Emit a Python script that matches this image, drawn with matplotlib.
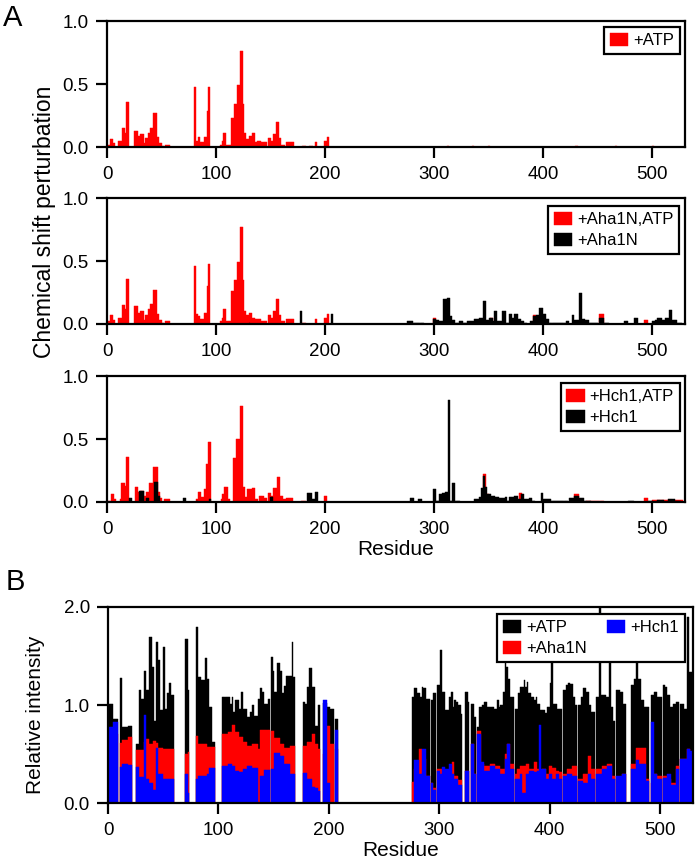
import matplotlib
matplotlib.use("Agg")
import matplotlib.pyplot as plt
import numpy as np

plt.rcParams['font.family'] = ['Liberation Sans', 'DejaVu Sans']

# ---- data: (first residue, last residue, value) runs ----
# Panel A, chemical shift perturbation
atp_csp = [
    (1, 2, 0.02), (3, 5, 0.06), (6, 7, 0.03), (11, 13, 0.05), (14, 16, 0.15), (17, 17, 0.11),
    (18, 20, 0.36), (25, 28, 0.13), (29, 30, 0.09), (31, 33, 0.10), (34, 34, 0.03), (35, 37, 0.07),
    (38, 39, 0.11), (40, 42, 0.15), (43, 45, 0.27), (46, 47, 0.08), (48, 50, 0.03), (51, 52, 0.01),
    (54, 57, 0.02), (80, 81, 0.48), (82, 83, 0.05), (84, 85, 0.08), (86, 88, 0.04), (89, 91, 0.08),
    (92, 92, 0.29), (93, 94, 0.48), (104, 105, 0.02), (106, 106, 0.05), (107, 109, 0.11),
    (110, 113, 0.02), (114, 116, 0.23), (117, 119, 0.34), (120, 121, 0.49), (122, 124, 0.76),
    (125, 125, 0.34), (126, 127, 0.11), (128, 130, 0.06), (131, 132, 0.09), (133, 135, 0.11),
    (136, 137, 0.04), (138, 141, 0.05), (142, 146, 0.04), (148, 150, 0.07), (151, 152, 0.05),
    (153, 154, 0.10), (155, 157, 0.20), (158, 159, 0.07), (160, 163, 0.02), (165, 171, 0.04),
    (179, 182, 0.01), (186, 188, 0.005), (191, 192, 0.04), (199, 201, 0.05), (202, 203, 0.08),
    (312, 313, 0.01), (335, 336, 0.01), (350, 351, 0.01), (430, 431, 0.01), (466, 467, 0.01),
    (500, 501, 0.01),
]
aha1n_atp_csp = [
    (1, 2, 0.02), (3, 5, 0.07), (6, 7, 0.03), (11, 13, 0.05), (14, 16, 0.15), (17, 17, 0.12),
    (18, 20, 0.36), (25, 28, 0.14), (29, 30, 0.09), (31, 33, 0.10), (34, 34, 0.03), (35, 37, 0.07),
    (38, 39, 0.12), (40, 42, 0.16), (43, 45, 0.27), (46, 47, 0.08), (48, 50, 0.03), (51, 52, 0.01),
    (54, 57, 0.02), (80, 81, 0.46), (82, 83, 0.08), (84, 85, 0.06), (86, 88, 0.04), (89, 91, 0.09),
    (92, 92, 0.30), (93, 94, 0.48), (104, 105, 0.02), (106, 106, 0.05), (107, 109, 0.12),
    (110, 113, 0.02), (114, 116, 0.26), (117, 119, 0.35), (120, 121, 0.49), (122, 124, 0.77),
    (125, 125, 0.35), (126, 127, 0.10), (128, 130, 0.07), (131, 132, 0.09), (133, 135, 0.05),
    (136, 137, 0.04), (138, 141, 0.04), (142, 146, 0.02), (148, 150, 0.07), (151, 152, 0.05),
    (153, 154, 0.10), (155, 157, 0.20), (158, 159, 0.07), (160, 163, 0.02), (165, 171, 0.04),
    (179, 182, 0.01), (191, 192, 0.04), (199, 201, 0.05), (202, 203, 0.08),
    (299, 301, 0.05), (352, 353, 0.05), (391, 393, 0.07), (452, 455, 0.08), (493, 496, 0.03),
    (518, 518, 0.02),
]
aha1n_csp = [
    (131, 131, 0.01), (177, 178, 0.10), (206, 207, 0.08),
    (276, 280, 0.02), (281, 290, 0.005), (299, 301, 0.04), (302, 304, 0.03), (305, 308, 0.02),
    (309, 311, 0.20), (312, 314, 0.21), (315, 316, 0.06), (317, 319, 0.03), (320, 322, 0.01),
    (323, 326, 0.02), (327, 330, 0.01), (331, 336, 0.02), (337, 341, 0.04), (342, 344, 0.05),
    (345, 347, 0.18), (348, 350, 0.03), (351, 353, 0.05), (354, 354, 0.02), (355, 357, 0.10),
    (358, 362, 0.02), (363, 365, 0.10), (366, 368, 0.01), (369, 371, 0.08), (372, 373, 0.05),
    (374, 376, 0.08), (377, 379, 0.04), (380, 382, 0.02), (383, 385, 0.01), (388, 390, 0.02),
    (391, 393, 0.06), (394, 396, 0.07), (397, 399, 0.13), (400, 402, 0.08), (403, 405, 0.04),
    (406, 408, 0.01), (409, 415, 0.005), (416, 420, 0.01), (421, 423, 0.02), (427, 428, 0.07),
    (429, 432, 0.03), (433, 435, 0.25), (436, 438, 0.04), (439, 441, 0.03), (442, 450, 0.01),
    (452, 455, 0.05), (456, 460, 0.01), (475, 477, 0.02), (484, 486, 0.05), (500, 502, 0.02),
    (503, 504, 0.03), (505, 508, 0.05), (509, 511, 0.03), (512, 515, 0.05), (516, 518, 0.11),
    (519, 522, 0.03), (523, 527, 0.01),
]
hch1_atp_csp = [
    (1, 3, 0.01), (4, 6, 0.06), (7, 8, 0.02), (12, 12, 0.02), (13, 16, 0.15), (17, 17, 0.13),
    (18, 20, 0.36), (26, 28, 0.12), (29, 30, 0.08), (31, 33, 0.09), (34, 35, 0.05), (36, 38, 0.08),
    (39, 42, 0.15), (43, 46, 0.28), (47, 48, 0.08), (49, 50, 0.03), (53, 57, 0.02), (82, 83, 0.02),
    (84, 86, 0.08), (87, 88, 0.04), (89, 90, 0.10), (91, 92, 0.30), (93, 95, 0.48),
    (105, 105, 0.02), (106, 107, 0.06), (108, 110, 0.12), (111, 112, 0.02), (116, 118, 0.35),
    (119, 121, 0.50), (122, 124, 0.76), (125, 126, 0.12), (127, 128, 0.04), (129, 132, 0.10),
    (133, 135, 0.11), (136, 138, 0.02), (140, 143, 0.05), (144, 146, 0.03), (148, 150, 0.07),
    (151, 152, 0.05), (153, 155, 0.11), (156, 158, 0.20), (159, 161, 0.05), (162, 164, 0.02),
    (165, 170, 0.03), (178, 182, 0.01), (199, 201, 0.05),
    (312, 313, 0.01), (345, 347, 0.22), (348, 350, 0.06), (378, 380, 0.07), (429, 432, 0.06),
    (440, 455, 0.005), (493, 496, 0.03), (500, 528, 0.015),
]
hch1_csp = [
    (21, 22, 0.03), (30, 33, 0.09), (36, 38, 0.03), (44, 46, 0.16), (47, 48, 0.05), (70, 72, 0.03),
    (82, 83, 0.01), (94, 95, 0.02), (150, 152, 0.04), (184, 187, 0.07), (188, 190, 0.02),
    (191, 193, 0.08),
    (278, 281, 0.03), (286, 288, 0.02), (299, 301, 0.10), (302, 304, 0.01), (305, 307, 0.06),
    (308, 309, 0.07), (310, 312, 0.08), (313, 314, 0.81), (315, 316, 0.01), (317, 319, 0.15),
    (320, 323, 0.01), (337, 341, 0.02), (342, 342, 0.04), (343, 344, 0.11), (345, 346, 0.21),
    (347, 348, 0.12), (349, 352, 0.06), (353, 355, 0.05), (356, 359, 0.04), (360, 364, 0.03),
    (365, 366, 0.04), (367, 368, 0.01), (369, 373, 0.04), (374, 376, 0.05), (377, 379, 0.02),
    (380, 382, 0.06), (383, 386, 0.02), (387, 389, 0.03), (390, 392, 0.01), (398, 399, 0.07),
    (400, 407, 0.02), (408, 415, 0.01), (416, 422, 0.005), (424, 428, 0.03), (429, 432, 0.05),
    (433, 437, 0.03), (438, 443, 0.01), (478, 483, 0.01), (497, 500, 0.01), (505, 510, 0.015),
    (515, 520, 0.02), (521, 526, 0.01),
]

# Panel B, relative intensity
atp_int = [
    (1, 4, 1.01), (5, 9, 0.86), (11, 12, 1.28), (13, 18, 0.78), (19, 21, 0.79), (26, 28, 0.60),
    (29, 29, 1.15), (30, 32, 1.06), (33, 34, 1.35), (35, 37, 1.15), (38, 39, 1.69), (40, 41, 1.39),
    (42, 43, 0.84), (44, 45, 1.64), (46, 47, 1.46), (48, 49, 0.95), (50, 51, 1.59), (52, 53, 0.96),
    (54, 55, 1.12), (56, 57, 1.22), (58, 59, 1.10), (70, 72, 1.67), (73, 73, 1.15), (80, 81, 1.80),
    (82, 84, 1.29), (85, 87, 1.25), (88, 89, 1.48), (90, 91, 1.27), (92, 94, 0.98), (95, 96, 0.62),
    (104, 110, 1.08), (111, 112, 1.01), (113, 113, 1.08), (114, 115, 0.93), (116, 118, 1.05),
    (119, 120, 0.96), (121, 122, 1.13), (123, 125, 0.96), (126, 128, 0.88), (129, 130, 0.93),
    (131, 132, 1.00), (133, 135, 0.89), (136, 137, 1.06), (138, 139, 1.17), (140, 141, 1.13),
    (142, 144, 1.01), (145, 146, 1.06), (148, 149, 1.49), (150, 150, 1.35), (151, 153, 1.13),
    (154, 155, 1.43), (156, 157, 1.35), (158, 159, 1.12), (160, 161, 1.19), (162, 166, 1.30),
    (167, 167, 1.64), (168, 169, 1.29), (177, 178, 1.03), (179, 180, 1.01), (181, 182, 1.18),
    (183, 184, 1.38), (185, 187, 1.18), (188, 190, 0.79), (191, 192, 1.00), (195, 198, 1.02),
    (199, 201, 0.98), (202, 204, 0.96), (206, 208, 0.86),
    (276, 277, 1.08), (278, 279, 1.17), (280, 282, 1.12), (283, 284, 1.08), (285, 285, 1.18),
    (286, 288, 1.17), (289, 291, 1.06), (293, 294, 1.05), (295, 297, 1.12), (299, 300, 1.20),
    (301, 302, 1.56), (303, 305, 1.13), (306, 308, 0.95), (309, 310, 1.08), (311, 312, 1.13),
    (313, 313, 0.98), (314, 315, 1.05), (316, 317, 1.03), (318, 319, 1.00), (320, 320, 0.91),
    (324, 326, 1.13), (327, 327, 1.03), (329, 331, 1.01), (332, 333, 0.88), (335, 336, 0.78),
    (337, 338, 0.98), (339, 340, 1.00), (341, 343, 1.03), (344, 349, 0.98), (350, 352, 0.96),
    (353, 354, 1.05), (355, 355, 0.98), (356, 357, 1.00), (358, 359, 1.13), (360, 360, 1.55),
    (361, 362, 1.39), (363, 364, 1.27), (365, 367, 1.08), (369, 371, 0.96), (372, 373, 1.12),
    (374, 376, 1.18), (377, 377, 1.25), (378, 379, 1.18), (380, 380, 1.23), (381, 383, 1.12),
    (384, 385, 1.08), (386, 387, 1.05), (388, 388, 1.08), (389, 391, 1.01), (392, 395, 0.95),
    (396, 397, 0.92), (398, 400, 0.98), (401, 401, 1.22), (402, 403, 1.50), (404, 406, 1.01),
    (407, 411, 0.96), (413, 414, 1.15), (415, 416, 1.20), (417, 418, 1.22), (419, 421, 1.21),
    (422, 423, 1.08), (424, 424, 1.00), (426, 428, 1.00), (429, 430, 1.08), (431, 433, 1.17),
    (434, 435, 1.13), (436, 437, 1.00), (438, 441, 0.93), (443, 444, 1.08), (445, 446, 2.00),
    (447, 451, 1.10), (452, 453, 1.08), (454, 455, 1.60), (456, 457, 0.98), (458, 459, 0.84),
    (461, 463, 1.15), (464, 466, 1.13), (467, 469, 1.01), (474, 476, 1.20), (477, 478, 1.27),
    (479, 480, 1.60), (481, 482, 1.27), (483, 485, 1.05), (486, 490, 0.98), (492, 494, 1.10),
    (495, 497, 1.13), (498, 501, 1.08), (503, 504, 1.20), (505, 506, 1.18), (507, 509, 1.10),
    (510, 511, 0.98), (512, 514, 1.01), (515, 517, 1.03), (519, 521, 1.01), (522, 524, 0.96),
    (525, 526, 1.90), (527, 529, 1.34),
]
aha1n_int = [
    (1, 4, 0.75), (5, 9, 0.70), (11, 12, 0.61), (13, 18, 0.64), (19, 21, 0.67), (26, 32, 0.54),
    (33, 34, 0.62), (35, 37, 0.65), (38, 40, 0.60), (41, 43, 0.63), (44, 45, 0.61), (46, 49, 0.56),
    (50, 59, 0.55), (70, 72, 0.50), (73, 73, 0.52), (80, 81, 0.68), (82, 89, 0.60), (90, 96, 0.57),
    (104, 108, 0.70), (109, 112, 0.72), (113, 115, 0.80), (116, 118, 0.72), (119, 122, 0.67),
    (123, 125, 0.62), (126, 130, 0.58), (131, 135, 0.60), (136, 137, 0.55), (138, 146, 0.75),
    (148, 150, 0.73), (151, 155, 0.66), (156, 159, 0.60), (160, 164, 0.56), (165, 169, 0.58),
    (177, 180, 0.58), (181, 184, 0.62), (185, 187, 0.70), (188, 190, 0.60), (191, 192, 0.55),
    (195, 198, 0.50), (199, 201, 0.79), (202, 204, 0.60), (206, 208, 0.55),
    (276, 277, 0.21), (278, 281, 0.35), (282, 284, 0.55), (285, 288, 0.45), (289, 291, 0.28),
    (293, 294, 0.20), (295, 297, 0.15), (299, 302, 0.35), (303, 305, 0.32), (306, 308, 0.34),
    (309, 311, 0.35), (312, 313, 0.42), (314, 317, 0.28), (318, 320, 0.23), (324, 327, 0.33),
    (329, 331, 0.60), (332, 333, 0.30), (335, 337, 0.73), (338, 340, 0.40), (341, 346, 0.38),
    (347, 350, 0.40), (351, 355, 0.38), (356, 359, 0.35), (360, 361, 0.50), (362, 364, 0.60),
    (365, 367, 0.40), (369, 370, 0.30), (371, 373, 0.35), (374, 378, 0.38), (379, 381, 0.40),
    (382, 385, 0.35), (386, 388, 0.42), (389, 391, 0.35), (392, 393, 0.30), (394, 396, 0.35),
    (397, 399, 0.30), (400, 402, 0.38), (403, 405, 0.36), (406, 408, 0.33), (409, 411, 0.32),
    (413, 415, 0.30), (416, 420, 0.35), (421, 424, 0.38), (426, 430, 0.25), (431, 434, 0.30),
    (435, 437, 0.48), (438, 441, 0.35), (443, 447, 0.35), (448, 452, 0.38), (453, 456, 0.40),
    (457, 459, 0.28), (461, 465, 0.25), (466, 469, 0.30), (474, 478, 0.40), (479, 487, 0.56),
    (488, 490, 0.25), (492, 494, 0.20), (495, 497, 0.30), (498, 501, 0.28), (503, 506, 0.28),
    (507, 510, 0.25), (511, 514, 0.20), (515, 517, 0.38), (519, 524, 0.45), (525, 527, 0.55),
    (528, 529, 0.40),
]
hch1_int = [
    (1, 4, 0.78), (5, 9, 0.83), (11, 12, 0.37), (13, 18, 0.40), (19, 21, 0.39), (26, 28, 0.37),
    (29, 32, 0.27), (33, 34, 0.90), (35, 37, 0.25), (38, 40, 0.20), (41, 43, 0.13), (44, 45, 0.56),
    (46, 49, 0.30), (50, 59, 0.25), (70, 72, 0.30), (73, 73, 0.10), (80, 81, 0.24), (82, 89, 0.28),
    (90, 91, 0.30), (92, 96, 0.36), (104, 108, 0.38), (109, 112, 0.40), (113, 115, 0.38),
    (116, 118, 0.33), (119, 122, 0.32), (123, 125, 0.35), (126, 130, 0.38), (131, 135, 0.36),
    (138, 141, 0.28), (142, 146, 0.34), (148, 150, 0.35), (151, 155, 0.51), (156, 159, 0.48),
    (160, 164, 0.40), (165, 169, 0.30), (177, 180, 0.31), (181, 184, 0.25), (185, 187, 0.16),
    (188, 190, 0.15), (191, 192, 0.12), (195, 198, 1.05), (199, 201, 0.20), (206, 208, 0.75),
    (278, 281, 0.44), (282, 284, 0.30), (285, 288, 0.55), (289, 291, 0.28), (293, 294, 0.20),
    (295, 297, 0.13), (299, 300, 0.33), (301, 302, 0.30), (303, 305, 0.37), (306, 308, 0.35),
    (309, 311, 0.40), (312, 313, 0.30), (314, 317, 0.25), (318, 320, 0.18), (324, 327, 0.33),
    (329, 331, 0.60), (332, 333, 0.30), (335, 337, 0.70), (338, 340, 0.42), (341, 346, 0.33),
    (347, 350, 0.38), (351, 355, 0.35), (356, 359, 0.30), (360, 361, 0.45), (362, 364, 0.60),
    (365, 367, 0.35), (369, 373, 0.25), (374, 375, 0.30), (376, 378, 0.10), (379, 381, 0.30),
    (382, 385, 0.33), (386, 388, 0.32), (389, 390, 0.33), (391, 392, 0.80), (393, 396, 0.35),
    (397, 399, 0.25), (400, 402, 0.30), (403, 405, 0.25), (406, 408, 0.30), (409, 411, 0.25),
    (413, 415, 0.28), (416, 420, 0.30), (421, 424, 0.28), (426, 430, 0.22), (431, 434, 0.20),
    (435, 437, 0.30), (438, 441, 0.25), (443, 447, 0.30), (448, 452, 0.35), (453, 456, 0.38),
    (457, 459, 0.25), (461, 465, 0.28), (466, 469, 0.30), (474, 478, 0.35), (479, 481, 0.44),
    (482, 487, 0.40), (488, 490, 0.22), (492, 494, 0.83), (495, 497, 0.30), (498, 501, 0.25),
    (503, 506, 0.26), (507, 510, 0.30), (511, 514, 0.18), (515, 517, 0.35), (519, 524, 0.45),
    (525, 527, 0.55), (528, 529, 0.53),
]

RED, BLACK, BLUE = "#ff0000", "#000000", "#0000ff"
LW = 1.6
TICK_FS = 13.5
LABEL_FS = 15


def expand(runs):
    res, val = [], []
    for a, b, v in runs:
        for r in range(a, b + 1):
            res.append(r)
            val.append(v)
    return np.array(res), np.array(val)


def bars(ax, runs, color, label):
    x, y = expand(runs)
    return ax.bar(x, y, width=1.0, color=color, edgecolor=color, linewidth=0.3, label=label)


def style(ax, ymax, yticks, fmt):
    ax.set_xlim(0, 530)
    ax.set_ylim(0, ymax)
    ax.set_xticks(range(0, 501, 100))
    ax.set_yticks(yticks)
    ax.set_yticklabels([fmt % t for t in yticks])
    for s in ax.spines.values():
        s.set_linewidth(LW)
    ax.tick_params(direction="out", length=8, width=LW, labelsize=TICK_FS, pad=5)
    ax.tick_params(axis="x", pad=6)


def legend(ax, anchor, **kw):
    lg = ax.legend(loc="upper right", bbox_to_anchor=anchor, fontsize=12, frameon=True,
                   fancybox=False, framealpha=1, edgecolor="black", handlelength=1.1,
                   handleheight=0.8, handletextpad=0.3, borderpad=0.35, labelspacing=0.35,
                   borderaxespad=0, **kw)
    lg.get_frame().set_linewidth(LW)
    return lg


fig = plt.figure(figsize=(7, 8.67), dpi=100)

axA1 = fig.add_axes([0.1529, 0.8304, 0.8257, 0.1453])
bars(axA1, atp_csp, RED, "+ATP")
style(axA1, 1.0, [0, 0.5, 1.0], "%.1f")
legend(axA1, (0.991, 0.952))

axA2 = fig.add_axes([0.1529, 0.6263, 0.8257, 0.1453])
bars(axA2, aha1n_atp_csp, RED, "+Aha1N,ATP")
bars(axA2, aha1n_csp, BLACK, "+Aha1N")
style(axA2, 1.0, [0, 0.5, 1.0], "%.1f")
legend(axA2, (0.990, 0.937))

axA3 = fig.add_axes([0.1529, 0.4210, 0.8257, 0.1453])
bars(axA3, hch1_atp_csp, RED, "+Hch1,ATP")
bars(axA3, hch1_csp, BLACK, "+Hch1")
style(axA3, 1.0, [0, 0.5, 1.0], "%.1f")
legend(axA3, (0.991, 0.944))
axA3.set_xlabel("Residue", fontsize=LABEL_FS, labelpad=1)

axB = fig.add_axes([0.1543, 0.0738, 0.8357, 0.2261])
bars(axB, atp_int, BLACK, "+ATP")
bars(axB, aha1n_int, RED, "+Aha1N")
bars(axB, hch1_int, BLUE, "+Hch1")
style(axB, 2.0, [0, 1.0, 2.0], "%.1f")
legend(axB, (0.986, 0.964), ncol=2, columnspacing=1.2)
axB.set_xlabel("Residue", fontsize=LABEL_FS, labelpad=1)
axB.set_ylabel("Relative intensity", fontsize=LABEL_FS)
axB.yaxis.set_label_coords(-(108 - 45) / 585, 0.45)

fig.text(45 / 700, 1 - 222 / 867, "Chemical shift perturbation", rotation=90,
         fontsize=16.5, ha="center", va="center")
fig.text(3 / 700, 1 - 18 / 867, "A", fontsize=21, ha="left", va="center")
fig.text(6 / 700, 1 - 582 / 867, "B", fontsize=21, ha="left", va="center")

fig.savefig("out.png", dpi=100)
